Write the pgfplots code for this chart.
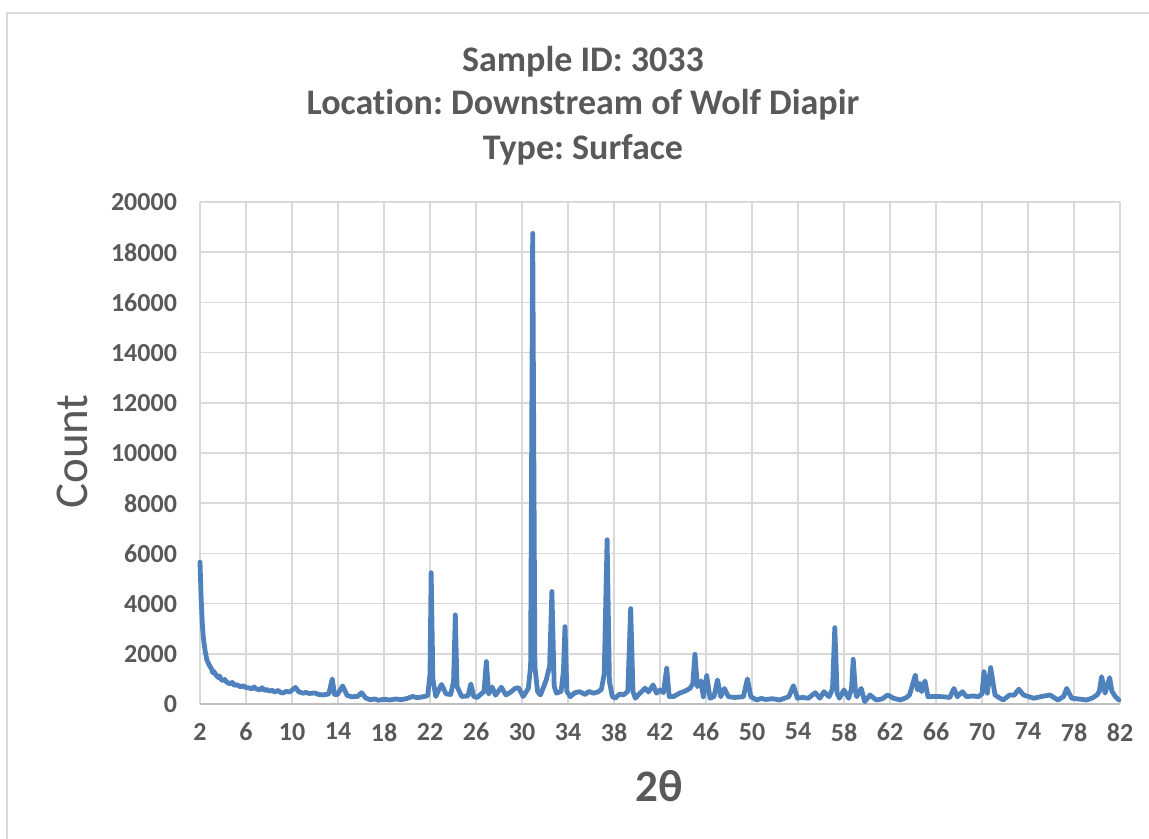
\documentclass[border=0pt]{standalone}
\usepackage{fontspec}
\setmainfont{Carlito}[Ligatures=NoCommon]
\usepackage{pgfplots}
\pgfplotsset{compat=1.18}
\definecolor{txtgray}{HTML}{595959}
\definecolor{gridgray}{HTML}{D9D9D9}
\definecolor{axgray}{HTML}{BFBFBF}
\definecolor{lineblue}{HTML}{4F81BD}
\frenchspacing
\begin{document}
\begin{tikzpicture}
\path[use as bounding box] (0,0) rectangle (574.5pt,419.5pt);
\draw[gridgray, line width=1pt] (3.6pt,0) -- (3.6pt,413.2pt) -- (574.5pt,413.2pt);
\node[anchor=base, font=\bfseries\fontsize{18}{21}\selectfont, text=txtgray] at (291.5pt,383.5pt) {Sample ID: 3033};
\node[anchor=base, font=\bfseries\fontsize{18}{21}\selectfont, text=txtgray] at (291.5pt,362pt) {Locat\kern0pt ion: Downstream of Wolf Diapir};
\node[anchor=base, font=\bfseries\fontsize{18}{21}\selectfont, text=txtgray] at (291.5pt,339.5pt) {Type: Surface};
\node[font=\fontsize{23.5}{26}\selectfont, text=txtgray, rotate=90] at (36pt,193.75pt) {Count};
\node[font=\bfseries\fontsize{22.5}{26}\selectfont, text=txtgray] at (329.5pt,26.5pt) {2θ};
\begin{axis}[
  at={(100pt,67.5pt)}, anchor=south west,
  width=460pt, height=251pt, scale only axis,
  xmin=2, xmax=82, ymin=0, ymax=20000,
  xtick={2,6,...,82}, ytick={0,2000,...,20000},
  scaled y ticks=false,
  /pgf/number format/1000 sep={},
  /pgf/number format/assume math mode=true,
  grid=major,
  major grid style={draw=gridgray, line width=0.8pt},
  axis x line*=bottom, axis y line*=left,
  x axis line style={draw=axgray, line width=1pt, -},
  y axis line style={draw=none},
  major tick length=0pt,
  tick style={draw=none},
  ticklabel style={font=\bfseries\fontsize{13}{15}\selectfont, text=txtgray},
  yticklabel style={xshift=-8pt},
  xticklabel style={yshift=-6pt},
  clip=false,
]
\addplot[lineblue, line width=2.4pt, line join=round, line cap=round] coordinates {
(2.0,5650) (2.1,4200) (2.2,3200) (2.3,2600) (2.45,2100) (2.6,1750) (2.8,1550)
(3.0,1400) (3.1,1250) (3.2,1300) (3.4,1150) (3.6,1050) (3.7,1120) (3.8,1000) (4.0,930) (4.15,980) (4.3,880)
(4.6,800) (4.8,860) (5.0,740) (5.2,770) (5.5,690) (5.8,720) (6.0,650) (6.3,640) (6.5,600) (6.7,680) (6.9,600)
(7.2,560) (7.4,650) (7.6,540) (7.8,580) (8.0,520) (8.3,540) (8.5,480) (8.8,540) (9.0,460) (9.2,440) (9.5,500)
(9.8,480) (10.3,660) (10.6,480) (11.0,430) (11.2,460) (11.5,420) (12.0,440) (12.3,380)
(12.7,360) (13.2,400) (13.5,1000) (13.7,380) (13.95,380) (14.4,720) (14.8,340)
(15.2,290) (15.7,300) (16.05,450) (16.4,240) (16.8,170) (17.2,200) (17.5,150) (18.0,190) (18.5,160)
(19.0,200) (19.5,170) (20.0,220) (20.5,300) (20.9,250) (21.3,280) (21.8,330) (22.0,1200) (22.1,5230) (22.25,1000)
(22.5,300) (23.0,780) (23.4,400) (23.8,380) (24.05,900) (24.2,3550) (24.35,700)
(24.75,300) (25.3,320) (25.55,800) (25.8,300) (26.1,260) (26.7,500) (26.9,1690)
(27.1,400) (27.4,680) (27.7,350) (28.2,670) (28.6,360) (29.0,470) (29.4,620)
(29.7,650) (30.1,300) (30.55,620) (30.75,1500) (30.93,18750) (31.12,1500) (31.35,500)
(31.6,360) (31.9,700) (32.1,950) (32.4,1500) (32.6,4480) (32.8,700) (33.0,430)
(33.4,500) (33.6,1300) (33.74,3080) (33.9,500) (34.2,290) (34.6,450) (35.0,490)
(35.5,380) (35.8,500) (36.2,430) (36.6,480) (36.9,580) (37.15,1200) (37.4,6540)
(37.6,900) (37.85,300) (38.1,230) (38.5,400) (38.8,360) (39.2,500) (39.45,3800)
(39.65,500) (39.85,230) (40.3,450) (40.7,630) (41.0,480) (41.4,760) (41.7,430)
(42.0,560) (42.3,450) (42.58,1420) (42.8,300) (43.2,300) (43.7,430) (44.2,520)
(44.6,620) (44.85,800) (45.04,1980) (45.25,690) (45.56,920) (45.77,290) (46.06,1130)
(46.35,230) (46.7,300) (47.0,960) (47.28,290) (47.6,620) (47.94,290) (48.5,260)
(49.25,290) (49.6,1000) (49.9,290) (50.4,160) (50.8,220) (51.2,180) (51.8,210) (52.4,160) (53.2,290)
(53.6,730) (53.95,230) (54.4,260) (54.9,230) (55.5,450) (55.9,230) (56.26,490)
(56.7,290) (57.0,600) (57.2,3040) (57.4,430) (57.6,230) (58.0,560) (58.4,230)
(58.65,600) (58.8,1780) (59.0,500) (59.1,290) (59.5,620) (59.8,90) (60.26,360)
(60.8,160) (61.3,200) (61.8,360) (62.3,230) (62.9,160) (63.4,250) (63.7,360)
(64.2,1150) (64.4,560) (64.6,820) (64.75,490) (65.04,920) (65.3,290) (66.0,300)
(66.6,290) (67.2,260) (67.56,620) (67.85,290) (68.3,490) (68.65,290) (69.2,320)
(69.68,290) (70.0,400) (70.17,1290) (70.46,430) (70.75,1450) (71.13,360) (71.5,250)
(71.85,160) (72.4,360) (72.8,350) (73.2,590) (73.6,360) (74.0,300) (74.5,230)
(75.2,300) (75.9,360) (76.6,160) (77.1,300) (77.36,620) (77.8,230) (78.4,200)
(79.1,160) (79.6,240) (80.0,360) (80.2,500) (80.4,1090) (80.7,430) (81.1,1050)
(81.3,500) (81.6,290) (81.9,160)
};
\end{axis}
\end{tikzpicture}
\end{document}
